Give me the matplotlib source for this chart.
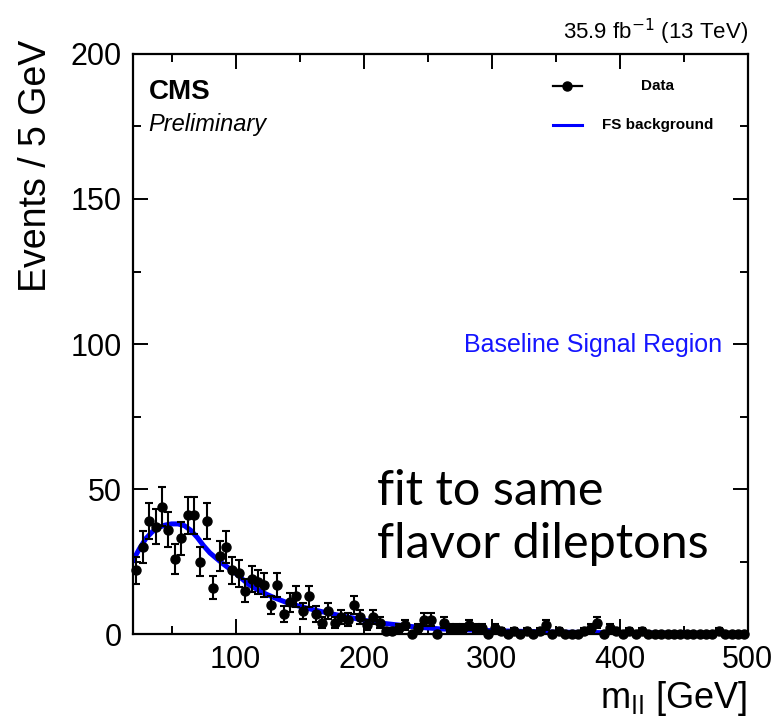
import numpy as np
import matplotlib
matplotlib.use("Agg")
import matplotlib.pyplot as plt
from matplotlib.lines import Line2D

# binning: 5 GeV bins from 20 to 500 GeV
bin_lo = 20
bin_hi = 500
bin_width = 5

counts = [22, 30, 39, 37, 44, 36, 26, 33, 41, 41,
          25, 39, 16, 27, 30, 22, 21, 15, 19, 18,
          17, 10, 17, 7, 11, 13, 8, 13, 7, 4,
          8, 4, 6, 5, 10, 6, 3, 6, 4, 1,
          1, 2, 3, 0, 2, 5, 5, 0, 4, 2,
          2, 2, 3, 2, 2, 0, 2, 1, 0, 1,
          0, 1, 0, 1, 3, 0, 1, 0, 0, 0,
          1, 2, 4, 0, 2, 1, 0, 1, 0, 1,
          0, 0, 0, 0, 0, 0, 0, 0, 0, 0,
          0, 1, 0, 0, 0, 0]

# flavour-symmetric background fit, sampled along the curve
fit_mll = [20, 25, 30, 35, 40, 45, 50, 55, 60, 65, 70, 75, 80, 90, 100,
           110, 120, 130, 140, 150, 160, 175, 190, 210, 240, 260, 300,
           350, 400, 450, 500]
fit_val = [25.5, 29.5, 33.0, 35.3, 36.8, 37.6, 38.0, 38.0, 37.4, 35.8,
           33.4, 30.5, 28.0, 24.3, 21.0, 17.2, 14.6, 12.6, 10.9, 9.6,
           8.5, 7.0, 5.7, 4.0, 2.5, 1.8, 1.2, 0.7, 0.45, 0.3, 0.2]

centers = np.arange(bin_lo, bin_hi, bin_width) + bin_width / 2.0
counts = np.array(counts, dtype=float)
errs = np.sqrt(counts)

plt.rcParams['font.family'] = ['Liberation Sans', 'DejaVu Sans']

fig = plt.figure(figsize=(7.74, 7.19), dpi=100)
ax = fig.add_axes([0.172, 0.118, 0.794, 0.807])

# fit curve
ax.plot(fit_mll, fit_val, color='#0000ff', lw=3.6, zorder=2)

# data points
ax.errorbar(centers, counts, yerr=errs, fmt='o', color='black',
            ms=6.5, elinewidth=1.5, capsize=2.8, capthick=1.5,
            zorder=3, clip_on=False)

ax.set_xlim(bin_lo, bin_hi)
ax.set_ylim(0, 200)
ax.set_xticks([100, 200, 300, 400, 500])
ax.set_xticks(np.arange(50, 500, 100), minor=True)
ax.set_yticks([0, 50, 100, 150, 200])
ax.set_yticks([25, 75, 125, 175], minor=True)
ax.tick_params(which='both', direction='in', top=True, right=True,
               width=1.4, labelsize=22)
ax.tick_params(which='major', length=11)
ax.tick_params(which='minor', length=6)
ax.tick_params(axis='x', pad=8)
ax.tick_params(axis='y', pad=8)
for s in ax.spines.values():
    s.set_linewidth(1.6)

ax.set_xlabel(r'm$_{\rm ll}$ [GeV]', fontsize=26, loc='right', labelpad=3)
ax.set_ylabel('Events / 5 GeV', fontsize=27, loc='top')
ax.yaxis.set_label_coords(-0.128, 1.025)

# CMS labels
ax.text(0.025, 0.935, 'CMS', transform=ax.transAxes, fontsize=20,
        fontweight='bold', va='center', ha='left')
ax.text(0.025, 0.878, 'Preliminary', transform=ax.transAxes, fontsize=17,
        style='italic', va='center', ha='left')
ax.text(1.0, 1.012, r'35.9 fb$^{-1}$ (13 TeV)', transform=ax.transAxes,
        fontsize=16, va='bottom', ha='right')

# legend, drawn by hand
ax.add_line(Line2D([0.683, 0.730], [0.945, 0.945], transform=ax.transAxes,
                   color='black', lw=1.6))
ax.plot([0.7065], [0.945], 'o', color='black', ms=6.5, transform=ax.transAxes)
ax.text(0.853, 0.945, 'Data', transform=ax.transAxes, fontsize=11,
        fontweight='bold', ha='center', va='center')
ax.add_line(Line2D([0.683, 0.730], [0.878, 0.878], transform=ax.transAxes,
                   color='#0000ff', lw=2.2))
ax.text(0.853, 0.878, 'FS background', transform=ax.transAxes, fontsize=11,
        fontweight='bold', ha='center', va='center')

ax.text(0.959, 0.498, 'Baseline Signal Region', transform=ax.transAxes,
        fontsize=18, color='#1515ff', ha='right', va='center')

fig.text(0.487, 0.348, 'fit to same\nflavor dileptons', fontsize=35,
         family=['Lato', 'DejaVu Sans'], ha='left', va='top',
         linespacing=1.25)

fig.savefig('out.png', dpi=100)
